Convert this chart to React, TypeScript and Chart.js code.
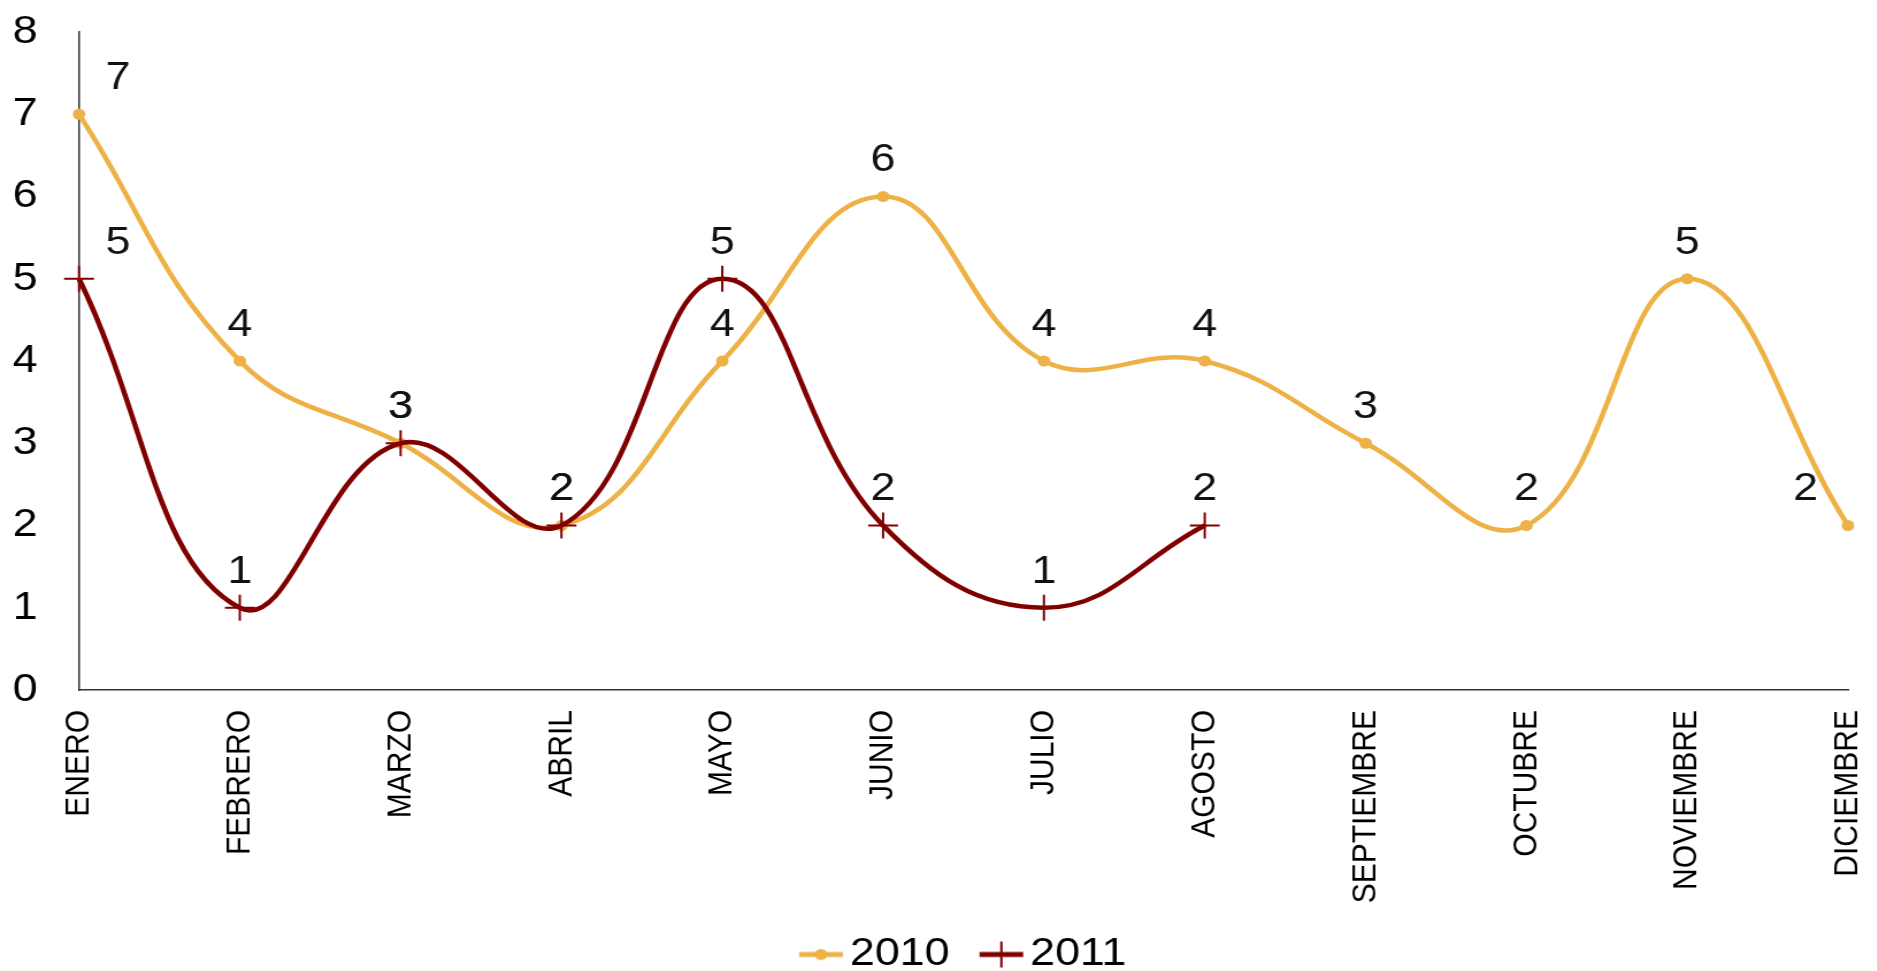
import React, { useEffect, useRef } from "react";
import { Chart, registerables } from "chart.js";

Chart.register(...registerables);

const categories = [
  "ENERO", "FEBRERO", "MARZO", "ABRIL", "MAYO", "JUNIO",
  "JULIO", "AGOSTO", "SEPTIEMBRE", "OCTUBRE", "NOVIEMBRE", "DICIEMBRE",
];
const series2010 = [7, 4, 3, 2, 4, 6, 4, 4, 3, 2, 5, 2];
const series2011 = [5, 1, 3, 2, 5, 2, 1, 2, null, null, null, null];
const seriesNames = ["2010", "2011"];
const yTicks = [0, 1, 2, 3, 4, 5, 6, 7, 8];

const COLOR_2010 = "#EDB146";
const COLOR_2011 = "#800000";
const FONT = "'Liberation Sans', Arial, sans-serif";
const STRETCH = 1.15;
const W = 1663;
const H = 984;
const LEGEND_SHIFT = 21;

function makeIcon(color: string, kind: "dot" | "cross") {
  const c = document.createElement("canvas");
  c.width = 70;
  c.height = 30;
  const ctx = c.getContext("2d")!;
  const a = 30.75;
  const L = 38;
  ctx.strokeStyle = color;
  ctx.lineWidth = 5;
  ctx.beginPath();
  ctx.moveTo(a, 15);
  ctx.lineTo(a + L, 15);
  ctx.stroke();
  const cx = a + L / 2;
  if (kind === "dot") {
    ctx.fillStyle = color;
    ctx.beginPath();
    ctx.arc(cx, 15, 5.5, 0, Math.PI * 2);
    ctx.fill();
  } else {
    ctx.lineWidth = 2;
    ctx.beginPath();
    ctx.moveTo(cx, 2);
    ctx.lineTo(cx, 28);
    ctx.stroke();
  }
  return c;
}

const legendShiftPlugin = {
  id: "legendShift",
  afterLayout(chart: any) {
    const lg = chart.legend;
    if (lg) {
      lg.left += LEGEND_SHIFT;
      lg.right += LEGEND_SHIFT;
    }
  },
};

const dataLabelPlugin = {
  id: "valueLabels",
  afterDatasetsDraw(chart: any) {
    const ctx = chart.ctx;
    ctx.save();
    ctx.font = `39px ${FONT}`;
    ctx.fillStyle = "#111111";
    ctx.textAlign = "center";
    ctx.textBaseline = "middle";
    chart.data.datasets.forEach((ds: any, di: number) => {
      const meta = chart.getDatasetMeta(di);
      const n = ds.data.length;
      meta.data.forEach((pt: any, i: number) => {
        const v = ds.data[i];
        if (v === null || v === undefined) return;
        let dx = 0;
        if (i === 0) dx = 34;
        if (i === n - 1) dx = -37;
        ctx.fillText(String(v), pt.x + dx, pt.y - 36);
      });
    });
    ctx.restore();
  },
};

export default function App() {
  const ref = useRef<HTMLCanvasElement | null>(null);

  useEffect(() => {
    if (!ref.current) return;
    const icons = [makeIcon(COLOR_2010, "dot"), makeIcon(COLOR_2011, "cross")];
    const chart = new Chart(ref.current, {
      type: "line",
      data: {
        labels: categories,
        datasets: [
          {
            label: seriesNames[0],
            data: series2010,
            borderColor: COLOR_2010,
            backgroundColor: COLOR_2010,
            borderWidth: 4.5,
            tension: 0.42,
            pointStyle: "circle",
            pointRadius: 5.5,
            pointBorderWidth: 0,
            pointBackgroundColor: COLOR_2010,
            order: 1,
          },
          {
            label: seriesNames[1],
            data: series2011,
            borderColor: COLOR_2011,
            backgroundColor: COLOR_2011,
            borderWidth: 4.5,
            tension: 0.42,
            pointStyle: "cross",
            pointRadius: 13,
            pointBorderWidth: 2,
            pointBorderColor: COLOR_2011,
            order: 0,
          },
        ],
      },
      options: {
        animation: false,
        responsive: false,
        maintainAspectRatio: false,
        devicePixelRatio: 1,
        layout: { padding: { left: 0, right: 46.5, top: 32, bottom: 0 } },
        plugins: {
          tooltip: { enabled: false },
          legend: {
            position: "bottom",
            labels: {
              usePointStyle: true,
              pointStyleWidth: 40.5,
              padding: 10,
              color: "#000000",
              font: { size: 39, family: FONT },
              generateLabels: () =>
                seriesNames.map((name, i) => ({
                  text: name,
                  pointStyle: icons[i],
                  fillStyle: i === 0 ? COLOR_2010 : COLOR_2011,
                  strokeStyle: i === 0 ? COLOR_2010 : COLOR_2011,
                  lineWidth: 0,
                  hidden: false,
                  datasetIndex: i,
                  fontColor: "#000000",
                })),
            },
          },
        },
        scales: {
          x: {
            type: "category",
            offset: false,
            grid: { display: false, drawTicks: false, tickLength: 0 },
            border: { display: true, color: "#333333", width: 1.5 },
            ticks: {
              autoSkip: false,
              minRotation: 90,
              maxRotation: 90,
              padding: 20,
              color: "#000000",
              font: { size: 30, family: FONT },
            },
            afterFit: (scale: any) => {
              scale.height = 235;
            },
          },
          y: {
            min: 0,
            max: 8,
            grid: { display: false, drawTicks: false, tickLength: 0 },
            border: { display: true, color: "#333333", width: 1.5 },
            afterBuildTicks: (scale: any) => {
              scale.ticks = yTicks.map((v) => ({ value: v }));
            },
            ticks: {
              padding: 36,
              color: "#000000",
              font: { size: 39, family: FONT },
            },
            afterFit: (scale: any) => {
              scale.width = 68.7;
              scale.paddingTop = 0;
              scale.paddingBottom = 0;
            },
          },
        },
      },
      plugins: [dataLabelPlugin, legendShiftPlugin],
    } as any);
    return () => chart.destroy();
  }, []);

  return (
    <div
      style={{
        position: "fixed",
        left: 0,
        top: 0,
        width: 1877,
        height: 971,
        overflow: "hidden",
        background: "#ffffff",
      }}
    >
      <div style={{ transform: `scaleX(${STRETCH})`, transformOrigin: "0 0", width: W, height: H }}>
        <canvas ref={ref} width={W} height={H} style={{ display: "block", width: W, height: H }} />
      </div>
    </div>
  );
}
